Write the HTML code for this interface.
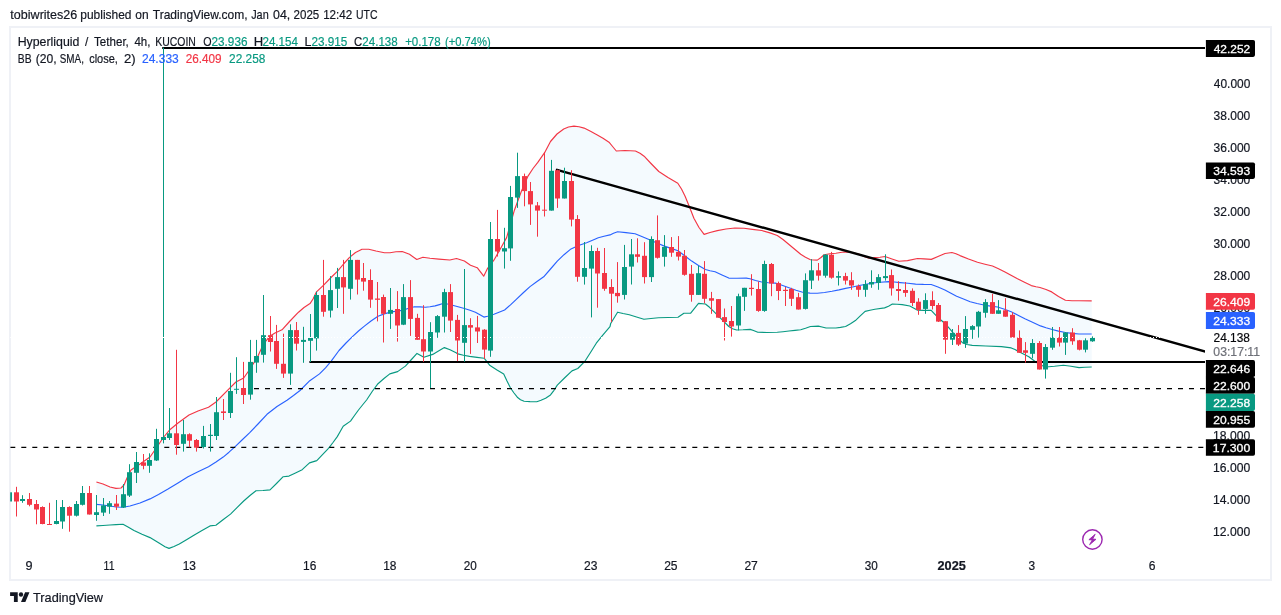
<!DOCTYPE html>
<html lang="en"><head><meta charset="utf-8"><title>HYPEUSDT chart - TradingView snapshot</title>
<style>
html,body{margin:0;padding:0;background:#fff;}
body{width:1281px;height:615px;position:relative;overflow:hidden;font-family:"Liberation Sans", Arial, sans-serif;color:#131722;}
.frame{position:absolute;left:9px;top:26px;width:1263px;height:555px;box-sizing:border-box;border:2px solid #eff1f6;}
svg{position:absolute;left:0;top:0;}
svg text{font-family:"Liberation Sans", Arial, sans-serif;}
.ax{font-size:12px;fill:#131722;}
.lb{font-size:12px;fill:#fff;stroke:#fff;stroke-width:0.25px;}
.lg{font-size:12px;fill:#131722;}
.tt{font-size:13.5px;fill:#131722;}
</style></head><body>
<div class="frame"></div>
<svg width="1281" height="615" viewBox="0 0 1281 615">
<defs><clipPath id="cp"><rect x="10.2" y="28" width="1194.8" height="526"/></clipPath></defs>
<g clip-path="url(#cp)">
<polygon points="96.4,482 103,484 110,487 116,488.4 121,488 124,485 127,478 131,470 140,464 150,457 157,447 163,438 169.5,430 178,423 189,415 198,411 208.5,407.3 216,402 228,389.8 235.9,382 243.7,378 250,369 257.5,357 263,345 269.3,336.6 275,333 282,329.8 290,321 298.5,312.2 304,307.5 310,303.6 313,299 316.5,291.8 323.9,284.9 331,277.5 337.6,271.2 343.5,264 349.3,257.6 355.5,252.5 362,249.2 368.8,249.2 376,251 384.4,252.7 390,252.7 396,251.8 402.2,251.5 409.5,254.3 416.8,259.5 422.9,257.3 430,258.3 438.8,259.1 449.8,260 456.5,258.5 464.4,261 470.5,265.2 477.2,267.7 483.7,276.2 487.6,268.3 493.9,260.2 500,249.5 506.6,237.6 510.5,224 514.4,210.2 521.2,191.7 528,176.1 533,168.5 537.8,162.4 544.6,152.7 550.5,141.5 557,134 563.7,129 568.5,127 573.9,126.1 579,126.8 584.1,128.1 590.5,131.3 597.3,134.9 603,138.3 609,142.2 613,147 616.3,151 625,150.5 635.4,151 640,153.3 644.1,156.2 651,163.5 658.8,171.5 668,177.5 677.8,183.2 681.5,189 685.1,196.3 689.5,207 693.9,218.3 699,227.5 704.1,234.4 710,232.5 717.3,230.6 726,229 734.9,228 744,228.3 752.4,229.4 761.7,230.5 770,232.9 777.3,235.5 783,239.5 789,244.5 795,249.5 800.7,254.3 805.5,257.3 810.5,259.7 817.3,260.1 821,257.5 824.1,254.7 830,253.8 835.9,253.3 842,252.3 847.6,251.9 853,252.8 859.3,254.3 864,256.5 869,258.2 875,257.5 880,257.3 885,256.5 892,259 898.8,261.3 907.5,260.6 917.5,258.5 924,258.9 931.3,259.4 938,256.5 945,253.5 951.9,252.5 956,253.8 960,255.6 968.5,259 977.5,262.3 985,264.2 992.5,266 998.5,268.7 1005,271.9 1011,275.3 1017.5,278.8 1024.5,282.3 1031.3,285.6 1036,286.7 1040,287.5 1046,289.5 1051.7,291.9 1058.5,296.5 1065.4,300.3 1072,300.7 1079,300.8 1091.7,300.8 1091.7,367 1085,367.3 1079,367.6 1071,366.3 1063.4,365.3 1054.5,366.3 1045.9,367 1044.4,366.5 1040.5,365 1036.6,362.6 1032.5,359.5 1028.8,356.7 1019,351.8 1015,349.6 1011.2,347.9 1001.5,346.6 985.9,346 972.2,345.4 967,344.5 962.4,342.7 957.5,337.5 952.7,332.3 948.7,327.7 944.9,323.5 937.1,316.7 934,313.3 931.2,310.3 924,310.4 917.6,310.3 913.5,308 909.8,306 902.2,304.6 897,304.2 892.4,304 888.5,306.2 884.6,307.9 874.9,309.3 870,310.2 865.1,311.4 860,316.2 855.4,320.6 850.5,323.8 845.6,326.5 840.5,327.4 835.9,328 826.1,328 822,327 818.3,326.1 810.5,326.5 805.5,328.3 800.7,329.8 795,330.4 789,331 783,331.7 777.3,332.3 767,332.5 757.8,332.3 753.5,330.5 750.2,329.4 743,329.8 736.6,330 732.5,328.7 728.8,326.5 721,318.7 713.2,310.9 709.5,307.3 705.4,304 698.5,303.4 694.5,308.3 690.7,313.2 683.9,313.2 678,317.3 668,317.5 658.5,317.7 651,318.5 643.9,319.2 636.5,317 629.3,314.8 623,313.5 617.6,312.2 610.7,323.5 610,326.6 603,334.8 596.3,343.2 590.5,352.5 584.6,361.7 577.8,368.5 572,370.9 564.5,378 557.3,385.1 554,390.3 550.5,394.9 545.6,398.2 541,400.3 536.8,401.7 530,401.6 524.1,401.3 520.5,399.7 517.3,397.2 514,393 510.5,388 507,381 503.7,374 497,370 490,365.6 484.1,358.2 477,357.4 469.5,356.4 463.5,355.3 457.8,353.9 456.1,352.8 450,349.8 444.4,347.6 438.5,351 432.7,354.4 423.9,357.3 417,353.4 411,360 405.4,366.1 397.6,371.6 389.8,373.9 384,378.5 378,383.7 372.2,391.5 366.6,400 362.5,405 358.5,410 354.5,415.5 350.5,421.1 343.2,426.3 340.5,431 337.3,436.6 333,442.5 328.5,448.3 322.5,454.7 316.8,460.6 309.5,462.9 302.2,469.7 295.5,473 289,476.1 283.2,476.7 276.5,483.5 270,489.9 263,490.5 256,490.7 250,495.5 243.7,501 237,507.7 230.5,514.1 223,519.8 215.9,525.3 210,525.9 202,530.5 193.9,535.2 186.5,539.7 179.3,544 174,546.5 169,548.4 165,546.7 159,543 150,537.6 142,534.3 134,530.5 128,527 123,524.3 116,524.6 110,525 103,525.5 96.4,525.9" fill="#2196f3" fill-opacity="0.05"/>
<polyline points="96.4,482 103,484 110,487 116,488.4 121,488 124,485 127,478 131,470 140,464 150,457 157,447 163,438 169.5,430 178,423 189,415 198,411 208.5,407.3 216,402 228,389.8 235.9,382 243.7,378 250,369 257.5,357 263,345 269.3,336.6 275,333 282,329.8 290,321 298.5,312.2 304,307.5 310,303.6 313,299 316.5,291.8 323.9,284.9 331,277.5 337.6,271.2 343.5,264 349.3,257.6 355.5,252.5 362,249.2 368.8,249.2 376,251 384.4,252.7 390,252.7 396,251.8 402.2,251.5 409.5,254.3 416.8,259.5 422.9,257.3 430,258.3 438.8,259.1 449.8,260 456.5,258.5 464.4,261 470.5,265.2 477.2,267.7 483.7,276.2 487.6,268.3 493.9,260.2 500,249.5 506.6,237.6 510.5,224 514.4,210.2 521.2,191.7 528,176.1 533,168.5 537.8,162.4 544.6,152.7 550.5,141.5 557,134 563.7,129 568.5,127 573.9,126.1 579,126.8 584.1,128.1 590.5,131.3 597.3,134.9 603,138.3 609,142.2 613,147 616.3,151 625,150.5 635.4,151 640,153.3 644.1,156.2 651,163.5 658.8,171.5 668,177.5 677.8,183.2 681.5,189 685.1,196.3 689.5,207 693.9,218.3 699,227.5 704.1,234.4 710,232.5 717.3,230.6 726,229 734.9,228 744,228.3 752.4,229.4 761.7,230.5 770,232.9 777.3,235.5 783,239.5 789,244.5 795,249.5 800.7,254.3 805.5,257.3 810.5,259.7 817.3,260.1 821,257.5 824.1,254.7 830,253.8 835.9,253.3 842,252.3 847.6,251.9 853,252.8 859.3,254.3 864,256.5 869,258.2 875,257.5 880,257.3 885,256.5 892,259 898.8,261.3 907.5,260.6 917.5,258.5 924,258.9 931.3,259.4 938,256.5 945,253.5 951.9,252.5 956,253.8 960,255.6 968.5,259 977.5,262.3 985,264.2 992.5,266 998.5,268.7 1005,271.9 1011,275.3 1017.5,278.8 1024.5,282.3 1031.3,285.6 1036,286.7 1040,287.5 1046,289.5 1051.7,291.9 1058.5,296.5 1065.4,300.3 1072,300.7 1079,300.8 1091.7,300.8" fill="none" stroke="#f23645" stroke-width="1.15" stroke-linejoin="round"/>
<polyline points="96.4,525.9 103,525.5 110,525 116,524.6 123,524.3 128,527 134,530.5 142,534.3 150,537.6 159,543 165,546.7 169,548.4 174,546.5 179.3,544 186.5,539.7 193.9,535.2 202,530.5 210,525.9 215.9,525.3 223,519.8 230.5,514.1 237,507.7 243.7,501 250,495.5 256,490.7 263,490.5 270,489.9 276.5,483.5 283.2,476.7 289,476.1 295.5,473 302.2,469.7 309.5,462.9 316.8,460.6 322.5,454.7 328.5,448.3 333,442.5 337.3,436.6 340.5,431 343.2,426.3 350.5,421.1 354.5,415.5 358.5,410 362.5,405 366.6,400 372.2,391.5 378,383.7 384,378.5 389.8,373.9 397.6,371.6 405.4,366.1 411,360 417,353.4 423.9,357.3 432.7,354.4 438.5,351 444.4,347.6 450,349.8 456.1,352.8 457.8,353.9 463.5,355.3 469.5,356.4 477,357.4 484.1,358.2 490,365.6 497,370 503.7,374 507,381 510.5,388 514,393 517.3,397.2 520.5,399.7 524.1,401.3 530,401.6 536.8,401.7 541,400.3 545.6,398.2 550.5,394.9 554,390.3 557.3,385.1 564.5,378 572,370.9 577.8,368.5 584.6,361.7 590.5,352.5 596.3,343.2 603,334.8 610,326.6 610.7,323.5 617.6,312.2 623,313.5 629.3,314.8 636.5,317 643.9,319.2 651,318.5 658.5,317.7 668,317.5 678,317.3 683.9,313.2 690.7,313.2 694.5,308.3 698.5,303.4 705.4,304 709.5,307.3 713.2,310.9 721,318.7 728.8,326.5 732.5,328.7 736.6,330 743,329.8 750.2,329.4 753.5,330.5 757.8,332.3 767,332.5 777.3,332.3 783,331.7 789,331 795,330.4 800.7,329.8 805.5,328.3 810.5,326.5 818.3,326.1 822,327 826.1,328 835.9,328 840.5,327.4 845.6,326.5 850.5,323.8 855.4,320.6 860,316.2 865.1,311.4 870,310.2 874.9,309.3 884.6,307.9 888.5,306.2 892.4,304 897,304.2 902.2,304.6 909.8,306 913.5,308 917.6,310.3 924,310.4 931.2,310.3 934,313.3 937.1,316.7 944.9,323.5 948.7,327.7 952.7,332.3 957.5,337.5 962.4,342.7 967,344.5 972.2,345.4 985.9,346 1001.5,346.6 1011.2,347.9 1015,349.6 1019,351.8 1028.8,356.7 1032.5,359.5 1036.6,362.6 1040.5,365 1044.4,366.5 1045.9,367 1054.5,366.3 1063.4,365.3 1071,366.3 1079,367.6 1085,367.3 1091.7,367" fill="none" stroke="#089981" stroke-width="1.15" stroke-linejoin="round"/>
<polyline points="96.4,504.4 103,505 110,506 116,507 123,507.3 130,506 140,503 150,498.9 158.5,494.5 167.6,489.3 178,483 188,476.7 198,471.7 208.5,466.7 216,462 223.2,457.1 229,452.2 234.9,446.8 242,440 249.5,432.8 258,424 267,414.3 277,406.5 287,400.2 293.5,395.5 300,390.5 309.8,380.7 319.5,373.9 325.5,367.8 331.2,361.2 339,350.5 346,343 352.7,336.4 358.5,331 364.4,326.1 371,321 378,316.3 385,313.6 391.7,311.9 398,311 402.2,310.4 408,308.5 414.4,306.7 420,306.9 425.4,307.3 430,306.7 435.1,305.9 439.5,304.6 443.7,303.3 448.5,304.2 453.4,305.5 459,307 464.4,308.5 470,310.3 475.4,312.2 479.5,314.5 483.9,317.1 487.6,316.2 493.9,314.3 499,312.3 504.6,310 510.5,304.9 516.3,299.3 523,293 530,286.6 537,281.5 543.7,276.8 550.5,269 557.3,261.2 564,254.7 571,248.9 578.5,245.5 586.6,242.7 592.5,240.3 598.3,237.8 604,236.2 610,234.9 613.5,233.2 617.6,231.8 626,232.6 635.1,233.8 643,237 650.7,240.2 657.5,243.3 664.4,246.1 671,248.4 678,250.8 685,256 691.7,261.1 698.5,265.5 705.4,269.5 710,270.8 715.1,271.8 722,275 728.8,278.1 737,278.3 746.3,278.1 750,278.7 755.5,280.5 761.7,282 768.5,282.7 775.4,283.1 782,285.3 789,287.8 796,290.2 802.7,292.3 810,293.1 817.3,293.3 824.5,292.5 832,291.3 839,289.9 845.6,288.4 852.5,287 859.3,285.5 866,284.2 872.9,283 880.5,282.2 888.5,281.6 894.5,282 900.2,282.6 908,283.3 915.6,284.1 923.5,284.4 931.2,284.5 938,287 944.9,290 950.5,293 956.6,296.2 963.5,299 970.2,301.7 977,303.5 983.9,305 990.5,306.1 997.6,307 1004.5,309.2 1011.2,311.8 1018,315.2 1024.9,318.7 1032.5,322.3 1040.5,325.9 1046,327.7 1052.2,329.5 1058.5,331.1 1065.4,332.5 1072,333.4 1079,334 1091.7,334" fill="none" stroke="#2962ff" stroke-width="1.15" stroke-linejoin="round"/>
<line x1="10.3" y1="447.3" x2="1206" y2="447.3" stroke="#000" stroke-width="1.15" stroke-dasharray="5 6"/>
<line x1="254" y1="388.6" x2="1206" y2="388.6" stroke="#000" stroke-width="1.15" stroke-dasharray="5 6"/>
<line x1="309.4" y1="362" x2="1206" y2="362" stroke="#000" stroke-width="2"/>
<line x1="162.2" y1="47.9" x2="1206" y2="47.9" stroke="#000" stroke-width="2"/>
<line x1="557" y1="169.8" x2="1205.3" y2="351.7" stroke="#000" stroke-width="2.4" stroke-linecap="round"/>
<path d="M9.5 492.3V501.5" stroke="#089981" stroke-width="1"/>
<rect x="7" y="492.3" width="5" height="9.2" fill="#089981"/>
<path d="M16.5 486.8V516.5" stroke="#f23645" stroke-width="1"/>
<rect x="14" y="492.3" width="5" height="9.2" fill="#f23645"/>
<path d="M22.5 495.2V502.8" stroke="#089981" stroke-width="1"/>
<rect x="20" y="499" width="5" height="2" fill="#089981"/>
<path d="M29.5 493V506.3" stroke="#f23645" stroke-width="1"/>
<rect x="27" y="499" width="5" height="5.8" fill="#f23645"/>
<path d="M36.5 500V524.3" stroke="#f23645" stroke-width="1"/>
<rect x="34" y="504" width="5" height="5.5" fill="#f23645"/>
<path d="M42.5 506.3V524.3" stroke="#f23645" stroke-width="1"/>
<rect x="40" y="507" width="5" height="17" fill="#f23645"/>
<path d="M49.5 502.8V524.7" stroke="#f23645" stroke-width="1"/>
<rect x="47" y="524" width="5" height="1" fill="#f23645"/>
<path d="M56.5 500V524.3" stroke="#089981" stroke-width="1"/>
<rect x="54" y="521" width="5" height="3" fill="#089981"/>
<path d="M62.5 500V528.8" stroke="#089981" stroke-width="1"/>
<rect x="60" y="507" width="5" height="14.5" fill="#089981"/>
<path d="M69.5 506.3V531.7" stroke="#f23645" stroke-width="1"/>
<rect x="67" y="507" width="5" height="8.7" fill="#f23645"/>
<path d="M76.5 501V516.5" stroke="#089981" stroke-width="1"/>
<rect x="74" y="504" width="5" height="11.7" fill="#089981"/>
<path d="M82.5 486V505.5" stroke="#089981" stroke-width="1"/>
<rect x="80" y="493" width="5" height="11.8" fill="#089981"/>
<path d="M89.5 486V514.5" stroke="#f23645" stroke-width="1"/>
<rect x="87" y="493" width="5" height="21.5" fill="#f23645"/>
<path d="M96.5 495V520.8" stroke="#089981" stroke-width="1"/>
<rect x="94" y="512.2" width="5" height="2.8" fill="#089981"/>
<path d="M103.5 498V516" stroke="#089981" stroke-width="1"/>
<rect x="101" y="505.4" width="5" height="7.2" fill="#089981"/>
<path d="M109.5 501V513.8" stroke="#089981" stroke-width="1"/>
<rect x="107" y="503.2" width="5" height="3.5" fill="#089981"/>
<path d="M116.5 495V510" stroke="#f23645" stroke-width="1"/>
<rect x="114" y="503.6" width="5" height="3.1" fill="#f23645"/>
<path d="M123.5 484V508" stroke="#089981" stroke-width="1"/>
<rect x="121" y="494.2" width="5" height="13.3" fill="#089981"/>
<path d="M129.5 464.2V497" stroke="#089981" stroke-width="1"/>
<rect x="127" y="472.2" width="5" height="23.4" fill="#089981"/>
<path d="M136.5 452V483" stroke="#089981" stroke-width="1"/>
<rect x="134" y="462" width="5" height="10.8" fill="#089981"/>
<path d="M143.5 454V469.3" stroke="#f23645" stroke-width="1"/>
<rect x="141" y="462.4" width="5" height="3.4" fill="#f23645"/>
<path d="M149.5 453.3V472.8" stroke="#089981" stroke-width="1"/>
<rect x="147" y="460" width="5" height="5.8" fill="#089981"/>
<path d="M156.5 428.8V461" stroke="#089981" stroke-width="1"/>
<rect x="154" y="439" width="5" height="21.5" fill="#089981"/>
<path d="M163.5 47.6V443.4" stroke="#089981" stroke-width="1"/>
<rect x="161" y="437" width="5" height="3" fill="#089981"/>
<path d="M169.5 408V440" stroke="#089981" stroke-width="1"/>
<rect x="167" y="433.3" width="5" height="4.7" fill="#089981"/>
<path d="M176.5 349.8V454.7" stroke="#f23645" stroke-width="1"/>
<rect x="174" y="433.3" width="5" height="11.7" fill="#f23645"/>
<path d="M183.5 420V451.6" stroke="#089981" stroke-width="1"/>
<rect x="181" y="434.2" width="5" height="9.6" fill="#089981"/>
<path d="M189.5 433.3V447.3" stroke="#f23645" stroke-width="1"/>
<rect x="187" y="434.2" width="5" height="6.5" fill="#f23645"/>
<path d="M196.5 439V451.6" stroke="#f23645" stroke-width="1"/>
<rect x="194" y="440" width="5" height="7.7" fill="#f23645"/>
<path d="M203.5 425.9V448.5" stroke="#089981" stroke-width="1"/>
<rect x="201" y="436" width="5" height="11" fill="#089981"/>
<path d="M210.5 424V451.6" stroke="#089981" stroke-width="1"/>
<rect x="208" y="434.8" width="5" height="1.2" fill="#089981"/>
<path d="M216.5 397V440" stroke="#089981" stroke-width="1"/>
<rect x="214" y="412.2" width="5" height="23.8" fill="#089981"/>
<path d="M223.5 399V420" stroke="#f23645" stroke-width="1"/>
<rect x="221" y="411.4" width="5" height="1.6" fill="#f23645"/>
<path d="M230.5 372.8V418" stroke="#089981" stroke-width="1"/>
<rect x="228" y="391" width="5" height="22" fill="#089981"/>
<path d="M236.5 357.2V393.9" stroke="#089981" stroke-width="1"/>
<rect x="234" y="388.8" width="5" height="1" fill="#089981"/>
<path d="M243.5 361.9V404" stroke="#f23645" stroke-width="1"/>
<rect x="241" y="388" width="5" height="7" fill="#f23645"/>
<path d="M250.5 339.9V399.7" stroke="#089981" stroke-width="1"/>
<rect x="248" y="361.9" width="5" height="32.7" fill="#089981"/>
<path d="M256.5 339.9V372.8" stroke="#089981" stroke-width="1"/>
<rect x="254" y="356" width="5" height="6.6" fill="#089981"/>
<path d="M263.5 295V362.6" stroke="#089981" stroke-width="1"/>
<rect x="261" y="335.2" width="5" height="19.6" fill="#089981"/>
<path d="M270.5 316V351.5" stroke="#f23645" stroke-width="1"/>
<rect x="268" y="335.2" width="5" height="6.8" fill="#f23645"/>
<path d="M276.5 324.9V368.9" stroke="#f23645" stroke-width="1"/>
<rect x="274" y="341" width="5" height="22.8" fill="#f23645"/>
<path d="M283.5 333.7V377.9" stroke="#f23645" stroke-width="1"/>
<rect x="281" y="363.8" width="5" height="9.8" fill="#f23645"/>
<path d="M290.5 324.3V384.9" stroke="#089981" stroke-width="1"/>
<rect x="288" y="330.1" width="5" height="43.5" fill="#089981"/>
<path d="M296.5 322V350.5" stroke="#f23645" stroke-width="1"/>
<rect x="294" y="330.1" width="5" height="13.6" fill="#f23645"/>
<path d="M303.5 326.8V362.8" stroke="#089981" stroke-width="1"/>
<rect x="301" y="339.9" width="5" height="2" fill="#089981"/>
<path d="M310.5 314V362" stroke="#089981" stroke-width="1"/>
<rect x="308" y="338" width="5" height="2.8" fill="#089981"/>
<path d="M316.5 291.7V350.6" stroke="#089981" stroke-width="1"/>
<rect x="314" y="295" width="5" height="43.4" fill="#089981"/>
<path d="M323.5 259.9V316.7" stroke="#f23645" stroke-width="1"/>
<rect x="321" y="295" width="5" height="16.8" fill="#f23645"/>
<path d="M330.5 276.1V317.5" stroke="#089981" stroke-width="1"/>
<rect x="328" y="290.1" width="5" height="20.5" fill="#089981"/>
<path d="M337.5 267.9V308" stroke="#089981" stroke-width="1"/>
<rect x="335" y="277.1" width="5" height="11.7" fill="#089981"/>
<path d="M343.5 259.9V313.8" stroke="#f23645" stroke-width="1"/>
<rect x="341" y="277.1" width="5" height="10.3" fill="#f23645"/>
<path d="M350.5 250.1V299.6" stroke="#089981" stroke-width="1"/>
<rect x="348" y="259.9" width="5" height="28.9" fill="#089981"/>
<path d="M357.5 259.9V294.5" stroke="#f23645" stroke-width="1"/>
<rect x="355" y="259.9" width="5" height="19.7" fill="#f23645"/>
<path d="M363.5 263V290.7" stroke="#f23645" stroke-width="1"/>
<rect x="361" y="278" width="5" height="3.6" fill="#f23645"/>
<path d="M370.5 269.3V307.8" stroke="#f23645" stroke-width="1"/>
<rect x="368" y="280" width="5" height="19.6" fill="#f23645"/>
<path d="M377.5 282V321.4" stroke="#f23645" stroke-width="1"/>
<rect x="375" y="298.5" width="5" height="1.3" fill="#f23645"/>
<path d="M383.5 294.6V342.5" stroke="#f23645" stroke-width="1"/>
<rect x="381" y="297" width="5" height="16.8" fill="#f23645"/>
<path d="M390.5 288V328.9" stroke="#089981" stroke-width="1"/>
<rect x="388" y="309.9" width="5" height="3.9" fill="#089981"/>
<path d="M397.5 291.1V341.6" stroke="#f23645" stroke-width="1"/>
<rect x="395" y="309" width="5" height="16.5" fill="#f23645"/>
<path d="M403.5 284.1V325.1" stroke="#089981" stroke-width="1"/>
<rect x="401" y="297.1" width="5" height="27.6" fill="#089981"/>
<path d="M410.5 280.1V335.9" stroke="#f23645" stroke-width="1"/>
<rect x="408" y="297.1" width="5" height="21.8" fill="#f23645"/>
<path d="M417.5 313.8V339.8" stroke="#f23645" stroke-width="1"/>
<rect x="415" y="317.9" width="5" height="21.9" fill="#f23645"/>
<path d="M423.5 305.2V361.8" stroke="#f23645" stroke-width="1"/>
<rect x="421" y="339.2" width="5" height="12.3" fill="#f23645"/>
<path d="M430.5 322.2V388.1" stroke="#089981" stroke-width="1"/>
<rect x="428" y="332" width="5" height="19.5" fill="#089981"/>
<path d="M437.5 315.1V337.8" stroke="#089981" stroke-width="1"/>
<rect x="435" y="316.1" width="5" height="16.4" fill="#089981"/>
<path d="M444.5 288.8V332.5" stroke="#089981" stroke-width="1"/>
<rect x="442" y="292.1" width="5" height="24.6" fill="#089981"/>
<path d="M450.5 284.1V332" stroke="#f23645" stroke-width="1"/>
<rect x="448" y="292.1" width="5" height="28.5" fill="#f23645"/>
<path d="M457.5 314.9V361.1" stroke="#f23645" stroke-width="1"/>
<rect x="455" y="319.9" width="5" height="20.6" fill="#f23645"/>
<path d="M464.5 269V361.7" stroke="#089981" stroke-width="1"/>
<rect x="462" y="325.1" width="5" height="17.7" fill="#089981"/>
<path d="M470.5 318.2V353.9" stroke="#f23645" stroke-width="1"/>
<rect x="468" y="325.1" width="5" height="2.5" fill="#f23645"/>
<path d="M477.5 315.9V343" stroke="#f23645" stroke-width="1"/>
<rect x="475" y="327.4" width="5" height="4.1" fill="#f23645"/>
<path d="M484.5 329.1V358.8" stroke="#f23645" stroke-width="1"/>
<rect x="482" y="329.7" width="5" height="19.9" fill="#f23645"/>
<path d="M490.5 222V356.8" stroke="#089981" stroke-width="1"/>
<rect x="488" y="239" width="5" height="111.6" fill="#089981"/>
<path d="M497.5 209.9V256.6" stroke="#f23645" stroke-width="1"/>
<rect x="495" y="239" width="5" height="12.5" fill="#f23645"/>
<path d="M504.5 227.8V268.6" stroke="#089981" stroke-width="1"/>
<rect x="502" y="248.2" width="5" height="3.3" fill="#089981"/>
<path d="M510.5 185.9V260.8" stroke="#089981" stroke-width="1"/>
<rect x="508" y="197" width="5" height="51.4" fill="#089981"/>
<path d="M517.5 152.7V207.9" stroke="#089981" stroke-width="1"/>
<rect x="515" y="176.1" width="5" height="21.5" fill="#089981"/>
<path d="M524.5 173.6V206.3" stroke="#f23645" stroke-width="1"/>
<rect x="522" y="176.1" width="5" height="15" fill="#f23645"/>
<path d="M530.5 182V224.9" stroke="#f23645" stroke-width="1"/>
<rect x="528" y="191.1" width="5" height="13.3" fill="#f23645"/>
<path d="M537.5 202V236.7" stroke="#f23645" stroke-width="1"/>
<rect x="535" y="205.4" width="5" height="5.2" fill="#f23645"/>
<path d="M544.5 152.1V216.5" stroke="#f23645" stroke-width="1"/>
<rect x="542" y="209.7" width="5" height="1" fill="#f23645"/>
<path d="M551.5 159.9V210.6" stroke="#089981" stroke-width="1"/>
<rect x="549" y="170.8" width="5" height="39.8" fill="#089981"/>
<path d="M557.5 169.7V207.9" stroke="#f23645" stroke-width="1"/>
<rect x="555" y="170.2" width="5" height="28.3" fill="#f23645"/>
<path d="M564.5 167.7V198.5" stroke="#089981" stroke-width="1"/>
<rect x="562" y="181" width="5" height="17.5" fill="#089981"/>
<path d="M571.5 170.2V226.4" stroke="#f23645" stroke-width="1"/>
<rect x="569" y="181" width="5" height="38.6" fill="#f23645"/>
<path d="M577.5 215.1V281.7" stroke="#f23645" stroke-width="1"/>
<rect x="575" y="219" width="5" height="57.8" fill="#f23645"/>
<path d="M584.5 242V284.6" stroke="#089981" stroke-width="1"/>
<rect x="582" y="268" width="5" height="8.8" fill="#089981"/>
<path d="M591.5 245.3V317.4" stroke="#089981" stroke-width="1"/>
<rect x="589" y="251" width="5" height="17.6" fill="#089981"/>
<path d="M597.5 247.8V307.7" stroke="#f23645" stroke-width="1"/>
<rect x="595" y="251" width="5" height="22.5" fill="#f23645"/>
<path d="M604.5 248V290.8" stroke="#f23645" stroke-width="1"/>
<rect x="602" y="273" width="5" height="15.8" fill="#f23645"/>
<path d="M611.5 279.2V322.2" stroke="#f23645" stroke-width="1"/>
<rect x="609" y="287" width="5" height="6.7" fill="#f23645"/>
<path d="M617.5 262.1V302.7" stroke="#f23645" stroke-width="1"/>
<rect x="615" y="292.9" width="5" height="3.3" fill="#f23645"/>
<path d="M624.5 244.9V299.5" stroke="#089981" stroke-width="1"/>
<rect x="622" y="267" width="5" height="27.9" fill="#089981"/>
<path d="M631.5 239V284.5" stroke="#089981" stroke-width="1"/>
<rect x="629" y="254.3" width="5" height="12.3" fill="#089981"/>
<path d="M637.5 238.3V262.5" stroke="#f23645" stroke-width="1"/>
<rect x="635" y="254.3" width="5" height="2.5" fill="#f23645"/>
<path d="M644.5 242.2V283.5" stroke="#f23645" stroke-width="1"/>
<rect x="642" y="255.8" width="5" height="21.3" fill="#f23645"/>
<path d="M651.5 236.3V282" stroke="#089981" stroke-width="1"/>
<rect x="649" y="239" width="5" height="38.1" fill="#089981"/>
<path d="M657.5 215.4V258.6" stroke="#f23645" stroke-width="1"/>
<rect x="655" y="240.2" width="5" height="17.6" fill="#f23645"/>
<path d="M664.5 235.1V266.6" stroke="#089981" stroke-width="1"/>
<rect x="662" y="246.9" width="5" height="9.9" fill="#089981"/>
<path d="M671.5 237.1V256.8" stroke="#f23645" stroke-width="1"/>
<rect x="669" y="247" width="5" height="5.7" fill="#f23645"/>
<path d="M678.5 236.1V260.5" stroke="#f23645" stroke-width="1"/>
<rect x="676" y="251.9" width="5" height="4.7" fill="#f23645"/>
<path d="M684.5 250V275.7" stroke="#f23645" stroke-width="1"/>
<rect x="682" y="255.8" width="5" height="19" fill="#f23645"/>
<path d="M691.5 265V301.7" stroke="#f23645" stroke-width="1"/>
<rect x="689" y="273.8" width="5" height="21.1" fill="#f23645"/>
<path d="M698.5 265.6V294.9" stroke="#089981" stroke-width="1"/>
<rect x="696" y="273.2" width="5" height="21.7" fill="#089981"/>
<path d="M704.5 261.1V303.4" stroke="#f23645" stroke-width="1"/>
<rect x="702" y="273.8" width="5" height="25" fill="#f23645"/>
<path d="M711.5 291.9V313.8" stroke="#f23645" stroke-width="1"/>
<rect x="709" y="298.2" width="5" height="2.5" fill="#f23645"/>
<path d="M718.5 299.1V317.7" stroke="#f23645" stroke-width="1"/>
<rect x="716" y="299.1" width="5" height="18.6" fill="#f23645"/>
<path d="M724.5 308.5V340.5" stroke="#f23645" stroke-width="1"/>
<rect x="722" y="317.1" width="5" height="4.9" fill="#f23645"/>
<path d="M731.5 306V336.6" stroke="#f23645" stroke-width="1"/>
<rect x="729" y="321" width="5" height="5.5" fill="#f23645"/>
<path d="M738.5 293.7V330.4" stroke="#089981" stroke-width="1"/>
<rect x="736" y="296.2" width="5" height="29.3" fill="#089981"/>
<path d="M744.5 287.8V310.9" stroke="#089981" stroke-width="1"/>
<rect x="742" y="287.8" width="5" height="9" fill="#089981"/>
<path d="M751.5 274.2V295.6" stroke="#f23645" stroke-width="1"/>
<rect x="749" y="287.8" width="5" height="1.2" fill="#f23645"/>
<path d="M758.5 281.6V311.8" stroke="#f23645" stroke-width="1"/>
<rect x="756" y="289" width="5" height="21.9" fill="#f23645"/>
<path d="M764.5 260.7V311.8" stroke="#089981" stroke-width="1"/>
<rect x="762" y="264" width="5" height="46.9" fill="#089981"/>
<path d="M771.5 263V296.2" stroke="#f23645" stroke-width="1"/>
<rect x="769" y="264" width="5" height="19.5" fill="#f23645"/>
<path d="M778.5 281.6V300.1" stroke="#f23645" stroke-width="1"/>
<rect x="776" y="283.1" width="5" height="7.9" fill="#f23645"/>
<path d="M785.5 287V306" stroke="#f23645" stroke-width="1"/>
<rect x="783" y="289.8" width="5" height="1.2" fill="#f23645"/>
<path d="M791.5 287.8V306" stroke="#f23645" stroke-width="1"/>
<rect x="789" y="289" width="5" height="9.8" fill="#f23645"/>
<path d="M798.5 292.9V309.5" stroke="#f23645" stroke-width="1"/>
<rect x="796" y="297.2" width="5" height="12.3" fill="#f23645"/>
<path d="M805.5 273.4V309.5" stroke="#089981" stroke-width="1"/>
<rect x="803" y="280.2" width="5" height="28.7" fill="#089981"/>
<path d="M811.5 259.1V289" stroke="#089981" stroke-width="1"/>
<rect x="809" y="270.3" width="5" height="10.3" fill="#089981"/>
<path d="M818.5 263V280.6" stroke="#f23645" stroke-width="1"/>
<rect x="816" y="270.3" width="5" height="5.4" fill="#f23645"/>
<path d="M825.5 254.3V277.7" stroke="#089981" stroke-width="1"/>
<rect x="823" y="254.7" width="5" height="21" fill="#089981"/>
<path d="M831.5 251.9V278.7" stroke="#f23645" stroke-width="1"/>
<rect x="829" y="254.7" width="5" height="23" fill="#f23645"/>
<path d="M838.5 271.4V285.5" stroke="#089981" stroke-width="1"/>
<rect x="836" y="276.1" width="5" height="1.6" fill="#089981"/>
<path d="M845.5 272.8V284.5" stroke="#f23645" stroke-width="1"/>
<rect x="843" y="276.1" width="5" height="4.5" fill="#f23645"/>
<path d="M851.5 272.2V289.8" stroke="#f23645" stroke-width="1"/>
<rect x="849" y="280.2" width="5" height="5.3" fill="#f23645"/>
<path d="M858.5 284.5V296.8" stroke="#f23645" stroke-width="1"/>
<rect x="856" y="286.1" width="5" height="3.7" fill="#f23645"/>
<path d="M865.5 280.2V296.8" stroke="#089981" stroke-width="1"/>
<rect x="863" y="284.1" width="5" height="5.7" fill="#089981"/>
<path d="M871.5 270.3V287.8" stroke="#089981" stroke-width="1"/>
<rect x="869" y="282" width="5" height="2.5" fill="#089981"/>
<path d="M878.5 274.2V289.8" stroke="#089981" stroke-width="1"/>
<rect x="876" y="277.1" width="5" height="5.9" fill="#089981"/>
<path d="M885.5 254.3V280.6" stroke="#089981" stroke-width="1"/>
<rect x="883" y="276.1" width="5" height="2" fill="#089981"/>
<path d="M891.5 269.5V295.6" stroke="#f23645" stroke-width="1"/>
<rect x="889" y="275.1" width="5" height="13.3" fill="#f23645"/>
<path d="M898.5 281.2V300.7" stroke="#f23645" stroke-width="1"/>
<rect x="896" y="289" width="5" height="2" fill="#f23645"/>
<path d="M905.5 282V296.8" stroke="#f23645" stroke-width="1"/>
<rect x="903" y="290" width="5" height="2.9" fill="#f23645"/>
<path d="M912.5 288.4V306" stroke="#f23645" stroke-width="1"/>
<rect x="910" y="290.8" width="5" height="12.2" fill="#f23645"/>
<path d="M918.5 298.2V314.8" stroke="#f23645" stroke-width="1"/>
<rect x="916" y="301.7" width="5" height="8.2" fill="#f23645"/>
<path d="M925.5 293.3V313.8" stroke="#089981" stroke-width="1"/>
<rect x="923" y="300.1" width="5" height="8.8" fill="#089981"/>
<path d="M932.5 291.3V309.5" stroke="#f23645" stroke-width="1"/>
<rect x="930" y="300.1" width="5" height="5.9" fill="#f23645"/>
<path d="M938.5 303V322" stroke="#f23645" stroke-width="1"/>
<rect x="936" y="305" width="5" height="16.6" fill="#f23645"/>
<path d="M945.5 321.2V353.8" stroke="#f23645" stroke-width="1"/>
<rect x="943" y="321.2" width="5" height="18.5" fill="#f23645"/>
<path d="M952.5 329V345" stroke="#089981" stroke-width="1"/>
<rect x="950" y="332.9" width="5" height="6.8" fill="#089981"/>
<path d="M958.5 325.1V346" stroke="#f23645" stroke-width="1"/>
<rect x="956" y="332.9" width="5" height="11.7" fill="#f23645"/>
<path d="M965.5 316.1V347.9" stroke="#089981" stroke-width="1"/>
<rect x="963" y="329" width="5" height="14.6" fill="#089981"/>
<path d="M972.5 325.1V338.8" stroke="#089981" stroke-width="1"/>
<rect x="970" y="326.1" width="5" height="3.7" fill="#089981"/>
<path d="M978.5 310.9V337.6" stroke="#089981" stroke-width="1"/>
<rect x="976" y="311.8" width="5" height="14.7" fill="#089981"/>
<path d="M985.5 299.1V317.7" stroke="#089981" stroke-width="1"/>
<rect x="983" y="302.1" width="5" height="10.7" fill="#089981"/>
<path d="M992.5 293.9V313.8" stroke="#f23645" stroke-width="1"/>
<rect x="990" y="302.1" width="5" height="11.7" fill="#f23645"/>
<path d="M998.5 300.1V313.8" stroke="#089981" stroke-width="1"/>
<rect x="996" y="310.3" width="5" height="3.5" fill="#089981"/>
<path d="M1005.5 298.2V316.7" stroke="#f23645" stroke-width="1"/>
<rect x="1003" y="310.3" width="5" height="6.4" fill="#f23645"/>
<path d="M1012.5 312.2V337.6" stroke="#f23645" stroke-width="1"/>
<rect x="1010" y="314.8" width="5" height="22.8" fill="#f23645"/>
<path d="M1019.5 330.4V352.8" stroke="#f23645" stroke-width="1"/>
<rect x="1017" y="337.6" width="5" height="15.2" fill="#f23645"/>
<path d="M1025.5 342.1V362.6" stroke="#f23645" stroke-width="1"/>
<rect x="1023" y="350.3" width="5" height="2.5" fill="#f23645"/>
<path d="M1032.5 339.1V358.3" stroke="#089981" stroke-width="1"/>
<rect x="1030" y="343" width="5" height="10.8" fill="#089981"/>
<path d="M1039.5 341.1V369.5" stroke="#f23645" stroke-width="1"/>
<rect x="1037" y="343" width="5" height="26.5" fill="#f23645"/>
<path d="M1045.5 344.1V378.6" stroke="#089981" stroke-width="1"/>
<rect x="1043" y="347" width="5" height="22.5" fill="#089981"/>
<path d="M1052.5 327V349.8" stroke="#089981" stroke-width="1"/>
<rect x="1050" y="337.5" width="5" height="10.2" fill="#089981"/>
<path d="M1059.5 327V346.5" stroke="#f23645" stroke-width="1"/>
<rect x="1057" y="337.5" width="5" height="5.1" fill="#f23645"/>
<path d="M1065.5 332.1V354.9" stroke="#089981" stroke-width="1"/>
<rect x="1063" y="332.5" width="5" height="10.1" fill="#089981"/>
<path d="M1072.5 328.2V344.8" stroke="#f23645" stroke-width="1"/>
<rect x="1070" y="332.5" width="5" height="8.8" fill="#f23645"/>
<path d="M1079.5 339.9V350.4" stroke="#f23645" stroke-width="1"/>
<rect x="1077" y="340.3" width="5" height="9.4" fill="#f23645"/>
<path d="M1085.5 338.3V352.4" stroke="#089981" stroke-width="1"/>
<rect x="1083" y="340.3" width="5" height="9.4" fill="#089981"/>
<path d="M1092.5 336.4V341.8" stroke="#089981" stroke-width="1"/>
<rect x="1090" y="337.9" width="5" height="3.4" fill="#089981"/>
<line x1="10" y1="337.5" x2="1206" y2="337.5" stroke="#fff" stroke-width="1" stroke-dasharray="1 2"/>
</g>
<circle cx="1092.4" cy="539.5" r="9.7" fill="none" stroke="#9c27b0" stroke-width="1.4"/>
<path d="M1095.2 534.3L1088.9 539.7L1092.3 539.9L1089.6 544.7L1096 539.3L1092.6 539.1Z" fill="#9c27b0" stroke="#9c27b0" stroke-width="0.9" stroke-linejoin="round"/>
<text x="1213.09" y="536" textLength="37.17" lengthAdjust="spacingAndGlyphs" style="font-size:12px;fill:#131722;stroke:#131722;stroke-width:0.2px;">12.000</text>
<text x="1213.09" y="504" textLength="37.17" lengthAdjust="spacingAndGlyphs" style="font-size:12px;fill:#131722;stroke:#131722;stroke-width:0.2px;">14.000</text>
<text x="1213.09" y="472" textLength="37.17" lengthAdjust="spacingAndGlyphs" style="font-size:12px;fill:#131722;stroke:#131722;stroke-width:0.2px;">16.000</text>
<text x="1213.09" y="440" textLength="37.17" lengthAdjust="spacingAndGlyphs" style="font-size:12px;fill:#131722;stroke:#131722;stroke-width:0.2px;">18.000</text>
<text x="1213.6" y="408" textLength="36.65" lengthAdjust="spacingAndGlyphs" style="font-size:12px;fill:#131722;stroke:#131722;stroke-width:0.2px;">20.000</text>
<text x="1213.6" y="376" textLength="36.65" lengthAdjust="spacingAndGlyphs" style="font-size:12px;fill:#131722;stroke:#131722;stroke-width:0.2px;">22.000</text>
<text x="1213.6" y="344" textLength="36.65" lengthAdjust="spacingAndGlyphs" style="font-size:12px;fill:#131722;stroke:#131722;stroke-width:0.2px;">24.000</text>
<text x="1213.6" y="312" textLength="36.65" lengthAdjust="spacingAndGlyphs" style="font-size:12px;fill:#131722;stroke:#131722;stroke-width:0.2px;">26.000</text>
<text x="1213.6" y="280" textLength="36.65" lengthAdjust="spacingAndGlyphs" style="font-size:12px;fill:#131722;stroke:#131722;stroke-width:0.2px;">28.000</text>
<text x="1213.6" y="248" textLength="36.65" lengthAdjust="spacingAndGlyphs" style="font-size:12px;fill:#131722;stroke:#131722;stroke-width:0.2px;">30.000</text>
<text x="1213.6" y="216" textLength="36.65" lengthAdjust="spacingAndGlyphs" style="font-size:12px;fill:#131722;stroke:#131722;stroke-width:0.2px;">32.000</text>
<text x="1213.6" y="184" textLength="36.65" lengthAdjust="spacingAndGlyphs" style="font-size:12px;fill:#131722;stroke:#131722;stroke-width:0.2px;">34.000</text>
<text x="1213.6" y="152" textLength="36.65" lengthAdjust="spacingAndGlyphs" style="font-size:12px;fill:#131722;stroke:#131722;stroke-width:0.2px;">36.000</text>
<text x="1213.6" y="120" textLength="36.65" lengthAdjust="spacingAndGlyphs" style="font-size:12px;fill:#131722;stroke:#131722;stroke-width:0.2px;">38.000</text>
<text x="1213.85" y="88" textLength="36.4" lengthAdjust="spacingAndGlyphs" style="font-size:12px;fill:#131722;stroke:#131722;stroke-width:0.2px;">40.000</text>
<rect x="1206" y="329" width="58" height="31" fill="#fff"/>
<text x="1213.6" y="341.9" textLength="36.34" lengthAdjust="spacingAndGlyphs" style="font-size:12px;fill:#06070b;stroke:#06070b;stroke-width:0.2px;">24.138</text>
<text x="1213.39" y="355.8" textLength="46.7" lengthAdjust="spacingAndGlyphs" style="font-size:12px;fill:#6e7078;stroke:#6e7078;stroke-width:0.2px;">03:17:11</text>
<path d="M1205.9 39.9H1253.2Q1255 39.9 1255 41.7V55.1Q1255 56.9 1253.2 56.9H1205.9Z" fill="#000"/>
<text x="1213.65" y="52.7" textLength="36.55" lengthAdjust="spacingAndGlyphs" style="font-size:11.8px;fill:#fff;stroke:#fff;stroke-width:0.3px;">42.252</text>
<path d="M1205.9 162.4H1253.2Q1255 162.4 1255 164.2V177.1Q1255 178.9 1253.2 178.9H1205.9Z" fill="#000"/>
<text x="1213.39" y="174.95" textLength="36.82" lengthAdjust="spacingAndGlyphs" style="font-size:11.8px;fill:#fff;stroke:#fff;stroke-width:0.3px;">34.593</text>
<path d="M1205.9 293H1253.2Q1255 293 1255 294.8V308Q1255 309.8 1253.2 309.8H1205.9Z" fill="#f23645"/>
<text x="1213.39" y="305.7" textLength="36.82" lengthAdjust="spacingAndGlyphs" style="font-size:11.8px;fill:#fff;stroke:#fff;stroke-width:0.3px;">26.409</text>
<path d="M1205.9 312H1253.2Q1255 312 1255 313.8V327.1Q1255 328.9 1253.2 328.9H1205.9Z" fill="#2962ff"/>
<text x="1213.39" y="324.75" textLength="36.82" lengthAdjust="spacingAndGlyphs" style="font-size:11.8px;fill:#fff;stroke:#fff;stroke-width:0.3px;">24.333</text>
<path d="M1205.9 360.1H1253.2Q1255 360.1 1255 361.9V375.2Q1255 377 1253.2 377H1205.9Z" fill="#000"/>
<text x="1213.39" y="372.85" textLength="36.82" lengthAdjust="spacingAndGlyphs" style="font-size:11.8px;fill:#fff;stroke:#fff;stroke-width:0.3px;">22.646</text>
<path d="M1205.9 377H1253.2Q1255 377 1255 378.8V392Q1255 393.8 1253.2 393.8H1205.9Z" fill="#000"/>
<text x="1213.39" y="389.7" textLength="36.82" lengthAdjust="spacingAndGlyphs" style="font-size:11.8px;fill:#fff;stroke:#fff;stroke-width:0.3px;">22.600</text>
<path d="M1205.9 393.8H1253.2Q1255 393.8 1255 395.6V409.1Q1255 410.9 1253.2 410.9H1205.9Z" fill="#089981"/>
<text x="1213.39" y="406.65" textLength="36.82" lengthAdjust="spacingAndGlyphs" style="font-size:11.8px;fill:#fff;stroke:#fff;stroke-width:0.3px;">22.258</text>
<path d="M1205.9 410.9H1253.2Q1255 410.9 1255 412.7V425.9Q1255 427.7 1253.2 427.7H1205.9Z" fill="#000"/>
<text x="1213.39" y="423.6" textLength="36.82" lengthAdjust="spacingAndGlyphs" style="font-size:11.8px;fill:#fff;stroke:#fff;stroke-width:0.3px;">20.955</text>
<path d="M1205.9 439.2H1253.2Q1255 439.2 1255 441V453.9Q1255 455.7 1253.2 455.7H1205.9Z" fill="#000"/>
<text x="1212.87" y="451.75" textLength="37.35" lengthAdjust="spacingAndGlyphs" style="font-size:11.8px;fill:#fff;stroke:#fff;stroke-width:0.3px;">17.300</text>
<text x="25.64" y="569.9" textLength="7.05" lengthAdjust="spacingAndGlyphs" style="font-size:12px;fill:#131722;stroke:#131722;stroke-width:0.2px;">9</text>
<text x="103.62" y="569.9" textLength="10.88" lengthAdjust="spacingAndGlyphs" style="font-size:12px;fill:#131722;stroke:#131722;stroke-width:0.2px;">11</text>
<text x="182.66" y="569.9" textLength="13.3" lengthAdjust="spacingAndGlyphs" style="font-size:12px;fill:#131722;stroke:#131722;stroke-width:0.2px;">13</text>
<text x="302.99" y="569.9" textLength="13.3" lengthAdjust="spacingAndGlyphs" style="font-size:12px;fill:#131722;stroke:#131722;stroke-width:0.2px;">16</text>
<text x="383.21" y="569.9" textLength="13.3" lengthAdjust="spacingAndGlyphs" style="font-size:12px;fill:#131722;stroke:#131722;stroke-width:0.2px;">18</text>
<text x="463.69" y="569.9" textLength="13.04" lengthAdjust="spacingAndGlyphs" style="font-size:12px;fill:#131722;stroke:#131722;stroke-width:0.2px;">20</text>
<text x="583.96" y="569.9" textLength="13.41" lengthAdjust="spacingAndGlyphs" style="font-size:12px;fill:#131722;stroke:#131722;stroke-width:0.2px;">23</text>
<text x="664.18" y="569.9" textLength="13.41" lengthAdjust="spacingAndGlyphs" style="font-size:12px;fill:#131722;stroke:#131722;stroke-width:0.2px;">25</text>
<text x="744.4" y="569.9" textLength="13.41" lengthAdjust="spacingAndGlyphs" style="font-size:12px;fill:#131722;stroke:#131722;stroke-width:0.2px;">27</text>
<text x="864.79" y="569.9" textLength="13.04" lengthAdjust="spacingAndGlyphs" style="font-size:12px;fill:#131722;stroke:#131722;stroke-width:0.2px;">30</text>
<text x="1028.47" y="569.9" textLength="6.63" lengthAdjust="spacingAndGlyphs" style="font-size:12px;fill:#131722;stroke:#131722;stroke-width:0.2px;">3</text>
<text x="1148.75" y="569.9" textLength="6.75" lengthAdjust="spacingAndGlyphs" style="font-size:12px;fill:#131722;stroke:#131722;stroke-width:0.2px;">6</text>
<text x="937.52" y="569.9" textLength="28.31" lengthAdjust="spacingAndGlyphs" style="font-size:12px;fill:#131722;font-weight:bold;stroke:#131722;stroke-width:0.2px;">2025</text>
<text x="10.37" y="18.7" textLength="66.94" lengthAdjust="spacingAndGlyphs" style="font-size:13.5px;fill:#131722;stroke:#131722;stroke-width:0.2px;">tobiwrites26</text>
<text x="80.31" y="18.7" textLength="51.19" lengthAdjust="spacingAndGlyphs" style="font-size:13.5px;fill:#131722;stroke:#131722;stroke-width:0.2px;">published</text>
<text x="135.36" y="18.7" textLength="13.34" lengthAdjust="spacingAndGlyphs" style="font-size:13.5px;fill:#131722;stroke:#131722;stroke-width:0.2px;">on</text>
<text x="152.78" y="18.7" textLength="94.89" lengthAdjust="spacingAndGlyphs" style="font-size:13.5px;fill:#131722;stroke:#131722;stroke-width:0.2px;">TradingView.com,</text>
<text x="251.2" y="18.7" textLength="17.53" lengthAdjust="spacingAndGlyphs" style="font-size:13.5px;fill:#131722;stroke:#131722;stroke-width:0.2px;">Jan</text>
<text x="273.04" y="18.7" textLength="17.23" lengthAdjust="spacingAndGlyphs" style="font-size:13.5px;fill:#131722;stroke:#131722;stroke-width:0.2px;">04,</text>
<text x="293.56" y="18.7" textLength="25.71" lengthAdjust="spacingAndGlyphs" style="font-size:13.5px;fill:#131722;stroke:#131722;stroke-width:0.2px;">2025</text>
<text x="323.14" y="18.7" textLength="29.15" lengthAdjust="spacingAndGlyphs" style="font-size:13.5px;fill:#131722;stroke:#131722;stroke-width:0.2px;">12:42</text>
<text x="355.92" y="18.7" textLength="21.56" lengthAdjust="spacingAndGlyphs" style="font-size:13.5px;fill:#131722;stroke:#131722;stroke-width:0.2px;">UTC</text>
<text x="17.65" y="46.05" textLength="61.81" lengthAdjust="spacingAndGlyphs" style="font-size:13px;fill:#131722;stroke:#131722;stroke-width:0.2px;">Hyperliquid</text>
<text x="84.9" y="46.05" textLength="3.31" lengthAdjust="spacingAndGlyphs" style="font-size:13px;fill:#131722;stroke:#131722;stroke-width:0.2px;">/</text>
<text x="94.08" y="46.05" textLength="34.74" lengthAdjust="spacingAndGlyphs" style="font-size:13px;fill:#131722;stroke:#131722;stroke-width:0.2px;">Tether,</text>
<text x="134.38" y="46.05" textLength="15.97" lengthAdjust="spacingAndGlyphs" style="font-size:13px;fill:#131722;stroke:#131722;stroke-width:0.2px;">4h,</text>
<text x="155.2" y="46.05" textLength="40.66" lengthAdjust="spacingAndGlyphs" style="font-size:13px;fill:#131722;stroke:#131722;stroke-width:0.2px;">KUCOIN</text>
<text x="203.29" y="46.05" textLength="8.33" lengthAdjust="spacingAndGlyphs" style="font-size:13px;fill:#131722;stroke:#131722;stroke-width:0.2px;">O</text>
<text x="211.52" y="46.05" textLength="35.94" lengthAdjust="spacingAndGlyphs" style="font-size:13px;fill:#089981;stroke:#089981;stroke-width:0.2px;">23.936</text>
<text x="253.79" y="46.05" textLength="9.46" lengthAdjust="spacingAndGlyphs" style="font-size:13px;fill:#131722;stroke:#131722;stroke-width:0.2px;">H</text>
<text x="262.43" y="46.05" textLength="35.51" lengthAdjust="spacingAndGlyphs" style="font-size:13px;fill:#089981;stroke:#089981;stroke-width:0.2px;">24.154</text>
<text x="304.54" y="46.05" textLength="6.92" lengthAdjust="spacingAndGlyphs" style="font-size:13px;fill:#131722;stroke:#131722;stroke-width:0.2px;">L</text>
<text x="311.42" y="46.05" textLength="35.94" lengthAdjust="spacingAndGlyphs" style="font-size:13px;fill:#089981;stroke:#089981;stroke-width:0.2px;">23.915</text>
<text x="354.04" y="46.05" textLength="8.22" lengthAdjust="spacingAndGlyphs" style="font-size:13px;fill:#131722;stroke:#131722;stroke-width:0.2px;">C</text>
<text x="362.33" y="46.05" textLength="35.32" lengthAdjust="spacingAndGlyphs" style="font-size:13px;fill:#089981;stroke:#089981;stroke-width:0.2px;">24.138</text>
<text x="405.14" y="46.05" textLength="35.52" lengthAdjust="spacingAndGlyphs" style="font-size:13px;fill:#089981;stroke:#089981;stroke-width:0.2px;">+0.178</text>
<text x="444.95" y="46.05" textLength="45.9" lengthAdjust="spacingAndGlyphs" style="font-size:13px;fill:#089981;stroke:#089981;stroke-width:0.2px;">(+0.74%)</text>
<text x="17.81" y="62.7" textLength="13.76" lengthAdjust="spacingAndGlyphs" style="font-size:13px;fill:#131722;stroke:#131722;stroke-width:0.2px;">BB</text>
<text x="35.8" y="62.7" textLength="20.88" lengthAdjust="spacingAndGlyphs" style="font-size:13px;fill:#131722;stroke:#131722;stroke-width:0.2px;">(20,</text>
<text x="59.73" y="62.7" textLength="24.17" lengthAdjust="spacingAndGlyphs" style="font-size:13px;fill:#131722;stroke:#131722;stroke-width:0.2px;">SMA,</text>
<text x="89.18" y="62.7" textLength="28.75" lengthAdjust="spacingAndGlyphs" style="font-size:13px;fill:#131722;stroke:#131722;stroke-width:0.2px;">close,</text>
<text x="124.04" y="62.7" textLength="11.68" lengthAdjust="spacingAndGlyphs" style="font-size:13px;fill:#131722;stroke:#131722;stroke-width:0.2px;">2)</text>
<text x="142.01" y="62.7" textLength="36.77" lengthAdjust="spacingAndGlyphs" style="font-size:13px;fill:#2962ff;stroke:#2962ff;stroke-width:0.2px;">24.333</text>
<text x="185.72" y="62.7" textLength="35.94" lengthAdjust="spacingAndGlyphs" style="font-size:13px;fill:#f23645;stroke:#f23645;stroke-width:0.2px;">26.409</text>
<text x="229.12" y="62.7" textLength="36.25" lengthAdjust="spacingAndGlyphs" style="font-size:13px;fill:#089981;stroke:#089981;stroke-width:0.2px;">22.258</text>
<g transform="translate(10.1,590.1) scale(0.545)" fill="#131722">
<path d="M14 22H7V11H0V4h14v18zM28 22h-8l7.5-18h8L28 22z"/><circle cx="20" cy="8" r="4"/>
</g>
<text x="33.05" y="601.7" textLength="70.02" lengthAdjust="spacingAndGlyphs" style="font-size:12.6px;fill:#131722;stroke:#131722;stroke-width:0.2px;">TradingView</text>
</svg>
</body></html>
